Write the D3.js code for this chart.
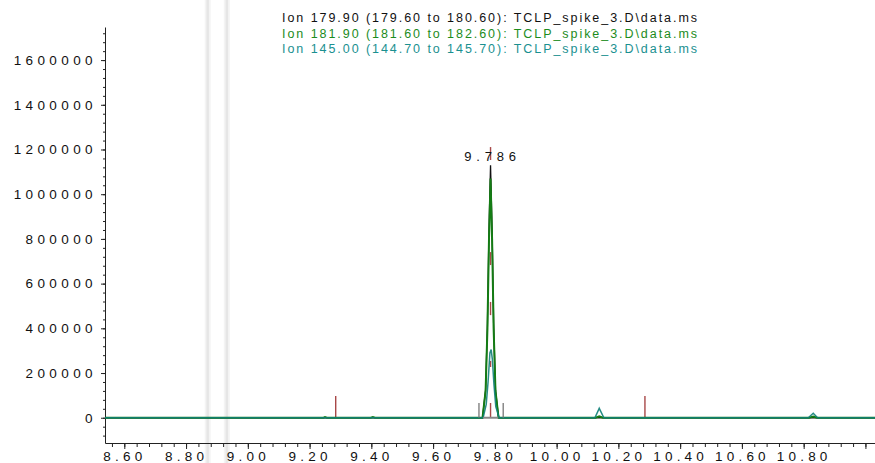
<!DOCTYPE html>
<html>
<head>
<meta charset="utf-8">
<script src="https://cdn.jsdelivr.net/npm/d3@7"></script>
<style>
  body { margin: 0; background: #fff; }
  svg { display: block; font-family: "Liberation Sans", Arial, sans-serif; }
</style>
</head>
<body>
<div id="chart"></div>
<script>
// retention time (min), abundance
var ion180 = [[8.5375, 0], [9.760, 0], [9.770, 125000], [9.776, 420000], [9.781, 840000], [9.786, 1130000],
    [9.791, 840000], [9.796, 420000], [9.802, 125000], [9.812, 0], [11.031, 0]];
var ion182 = [[8.5375, 0], [9.245, 0], [9.250, 3000], [9.256, 0], [9.398, 0], [9.405, 3000], [9.412, 0],
    [9.760, 0], [9.770, 120000], [9.776, 400000], [9.781, 800000], [9.786, 1070000],
    [9.791, 800000], [9.796, 400000], [9.802, 120000], [9.812, 0],
    [10.126, 0], [10.138, 6000], [10.150, 0], [10.818, 0], [10.831, 5000], [10.843, 0], [11.031, 0]];
var ion145 = [[8.5375, 0], [9.762, 0], [9.772, 60000], [9.778, 160000], [9.784, 290000], [9.788, 305000],
    [9.792, 260000], [9.797, 150000], [9.803, 50000], [9.814, 0],
    [10.124, 0], [10.138, 42000], [10.153, 0], [10.815, 0], [10.831, 20000], [10.845, 0], [11.031, 0]];

// red spikes and dashed apex marker: [time, from, to]
var redMarks = [[9.2846, 0, 97000], [10.286, 0, 97000],
    [9.786, 1153000, 1211000], [9.786, 683000, 741000], [9.786, 459000, 518000],
    [9.786, 227000, 254000], [9.786, 3000, 66000]];
// integration start / end markers
var grayMarks = [9.7485, 9.827];
var peakBase = [9.762, 9.811];
var peakLabel = { t: 9.786, text: "9.786" };
var bandTimes = [8.870, 8.932];

var legendLines = [
    "Ion 179.90 (179.60 to 180.60): TCLP_spike_3.D\\data.ms",
    "Ion 181.90 (181.60 to 182.60): TCLP_spike_3.D\\data.ms",
    "Ion 145.00 (144.70 to 145.70): TCLP_spike_3.D\\data.ms"
];
var legendColors = ["#111111", "#1c8c1c", "#1a9090"];

var yMajor = [0, 200000, 400000, 600000, 800000, 1000000, 1200000, 1400000, 1600000];
var yMinor = d3.range(-80000, 1740000, 40000);
var xMajor = [8.6, 8.8, 9.0, 9.2, 9.4, 9.6, 9.8, 10.0, 10.2, 10.4, 10.6, 10.8, 11.0];
var xLabels = ["8.60", "8.80", "9.00", "9.20", "9.40", "9.60", "9.80", "10.00", "10.20", "10.40", "10.60", "10.80", ""];
var xMinor = d3.range(8.56, 11.01, 0.04);

var width = 875, height = 463;
var plotLeft = 105, plotRight = 875, plotTop = 27, plotBottom = 443;

var svg = d3.select("#chart")
    .append("svg")
    .attr("width", width)
    .attr("height", height);

var x = d3.scaleLinear()
    .domain([8.5375, 11.031])
    .range([plotLeft, plotRight]);

var y = d3.scaleLinear()
    .domain([-113000, 1748000])
    .range([plotBottom, plotTop]);

// light gray vertical bands
bandTimes.forEach(function (t) {
    svg.append("line")
        .attr("x1", x(t)).attr("x2", x(t))
        .attr("y1", 0).attr("y2", height)
        .attr("stroke", "#f4f4f4")
        .attr("stroke-width", 6);
    svg.append("line")
        .attr("x1", x(t)).attr("x2", x(t))
        .attr("y1", 0).attr("y2", height)
        .attr("stroke", "#e6e6e6")
        .attr("stroke-width", 2.5);
});

// y axis
var yAxis = d3.axisLeft(y)
    .tickValues(yMajor)
    .tickSize(4)
    .tickSizeOuter(0)
    .tickFormat(d3.format("d"));
var gy = svg.append("g")
    .attr("transform", "translate(" + plotLeft + ",0)")
    .call(yAxis);
gy.selectAll("text")
    .attr("x", -8)
    .attr("font-size", "13.5px")
    .attr("letter-spacing", "4.4px")
    .attr("font-family", "Liberation Sans, Arial, sans-serif")
    .attr("fill", "#111");
svg.append("g")
    .attr("transform", "translate(" + plotLeft + ",0)")
    .call(d3.axisLeft(y).tickValues(yMinor).tickSize(2).tickFormat(""))
    .select(".domain").remove();

// x axis
var xAxis = d3.axisBottom(x)
    .tickValues(xMajor)
    .tickSize(6)
    .tickSizeOuter(0)
    .tickFormat(function (d, i) { return xLabels[i]; });
var gx = svg.append("g")
    .attr("transform", "translate(0," + plotBottom + ")")
    .call(xAxis);
gx.selectAll("text")
    .attr("y", 8)
    .attr("font-size", "13.5px")
    .attr("letter-spacing", "4.2px")
    .attr("font-family", "Liberation Sans, Arial, sans-serif")
    .attr("fill", "#111");
svg.append("g")
    .attr("transform", "translate(0," + plotBottom + ")")
    .call(d3.axisBottom(x).tickValues(xMinor).tickSize(4).tickFormat(""))
    .select(".domain").remove();
svg.selectAll(".domain, .tick line").attr("stroke", "#222");

// red marks
svg.selectAll(".red-mark")
    .data(redMarks)
    .enter().append("line")
    .attr("class", "red-mark")
    .attr("x1", d => x(d[0])).attr("x2", d => x(d[0]))
    .attr("y1", d => y(d[1])).attr("y2", d => y(d[2]))
    .attr("stroke", "#a84848")
    .attr("stroke-width", 1.4);

var line = d3.line()
    .x(d => x(d[0]))
    .y(d => y(d[1]));

svg.append("path")
    .datum(ion180)
    .attr("fill", "none")
    .attr("stroke", "#111111")
    .attr("stroke-width", 1.3)
    .attr("d", line);

svg.append("path")
    .datum(ion182)
    .attr("fill", "none")
    .attr("stroke", "#147c14")
    .attr("stroke-width", 2)
    .attr("d", line);

svg.append("path")
    .datum(ion145)
    .attr("fill", "none")
    .attr("stroke", "#0e8078")
    .attr("stroke-width", 1.5)
    .attr("stroke-opacity", 0.9)
    .attr("d", line);

// integration markers
svg.selectAll(".gray-mark")
    .data(grayMarks)
    .enter().append("line")
    .attr("x1", d => x(d)).attr("x2", d => x(d))
    .attr("y1", y(0)).attr("y2", y(66000))
    .attr("stroke", "#777")
    .attr("stroke-width", 1.3);
svg.append("line")
    .attr("x1", x(peakBase[0])).attr("x2", x(peakBase[1]))
    .attr("y1", y(0)).attr("y2", y(0))
    .attr("stroke", "#888")
    .attr("stroke-width", 2);

// peak label
svg.append("text")
    .attr("x", x(peakLabel.t) + 2)
    .attr("y", 161)
    .attr("text-anchor", "middle")
    .attr("font-size", "13px")
    .attr("letter-spacing", "4.8px")
    .attr("fill", "#111")
    .text(peakLabel.text);

// legend
svg.selectAll(".legend")
    .data(legendLines)
    .enter().append("text")
    .attr("x", 282)
    .attr("y", (d, i) => 22 + i * 15.7)
    .attr("font-size", "12.5px")
    .attr("textLength", 415)
    .attr("lengthAdjust", "spacing")
    .attr("fill", (d, i) => legendColors[i])
    .text(d => d);
</script>
</body>
</html>
